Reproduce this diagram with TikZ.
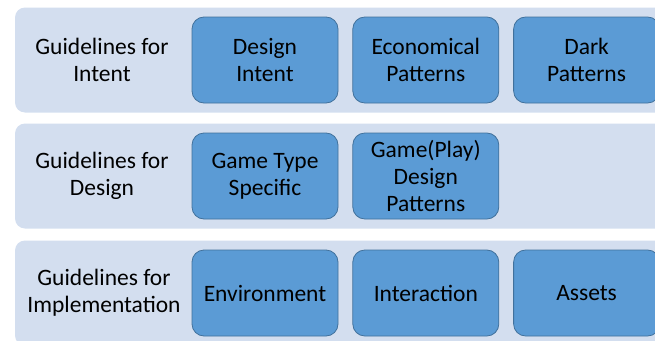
\documentclass[tikz,border=0pt]{standalone}
\usepackage{fontspec}
\setmainfont{Carlito}
\usetikzlibrary{positioning}

\definecolor{bandfill}{HTML}{D3DEEF}
\definecolor{boxfill}{HTML}{5B9BD5}
\definecolor{boxline}{HTML}{41719C}

\begin{document}
\begin{tikzpicture}[x=1pt, y=-1pt,
		band/.style={fill=bandfill, rounded corners=10pt, inner sep=0pt, minimum width=665pt, minimum height=105pt},
		item/.style={draw=boxline, line width=0.8pt, fill=boxfill, rounded corners=12pt, inner sep=0pt,
			minimum width=146pt, minimum height=86pt, align=center, font=\fontsize{23.5}{27}\selectfont},
		guide/.style={align=center, font=\fontsize{23.5}{27}\selectfont}]
			\clip (0,0) rectangle (655,340);
			% the three bands
			\node [band] (intentband) at (347.5,60) {};
			\node [band] (designband) at (347.5,176) {};
			\node [band] (implband) at (347.5,293) {};
			
			\node [guide] (intent) at (102,60) {Guidelines for\\Intent};
			\node [guide] (design) at (102,176) {Guidelines for\\Design};
			\node [guide] (impl) at (104,293) {Guidelines for\\Implementation};
			
			% boxes of each band
			\node [item] (designintent) at (265,60) {Design\\Intent};
			\node [item, right=14pt of designintent] (economical) {Economical\\Patterns};
			\node [item, right=14pt of economical] (dark) {Dark\\Patterns};
			
			\node [item] (gametype) at (265,176) {Game Type\\Specific};
			\node [item, right=14pt of gametype] (gameplay) {Game(Play)\\Design\\Patterns};
			
			\node [item] (environment) at (265,293) {Environment};
			\node [item, right=14pt of environment] (interaction) {Interaction};
			\node [item, right=14pt of interaction] (assets) {Assets};
			
		\end{tikzpicture}
\end{document}
